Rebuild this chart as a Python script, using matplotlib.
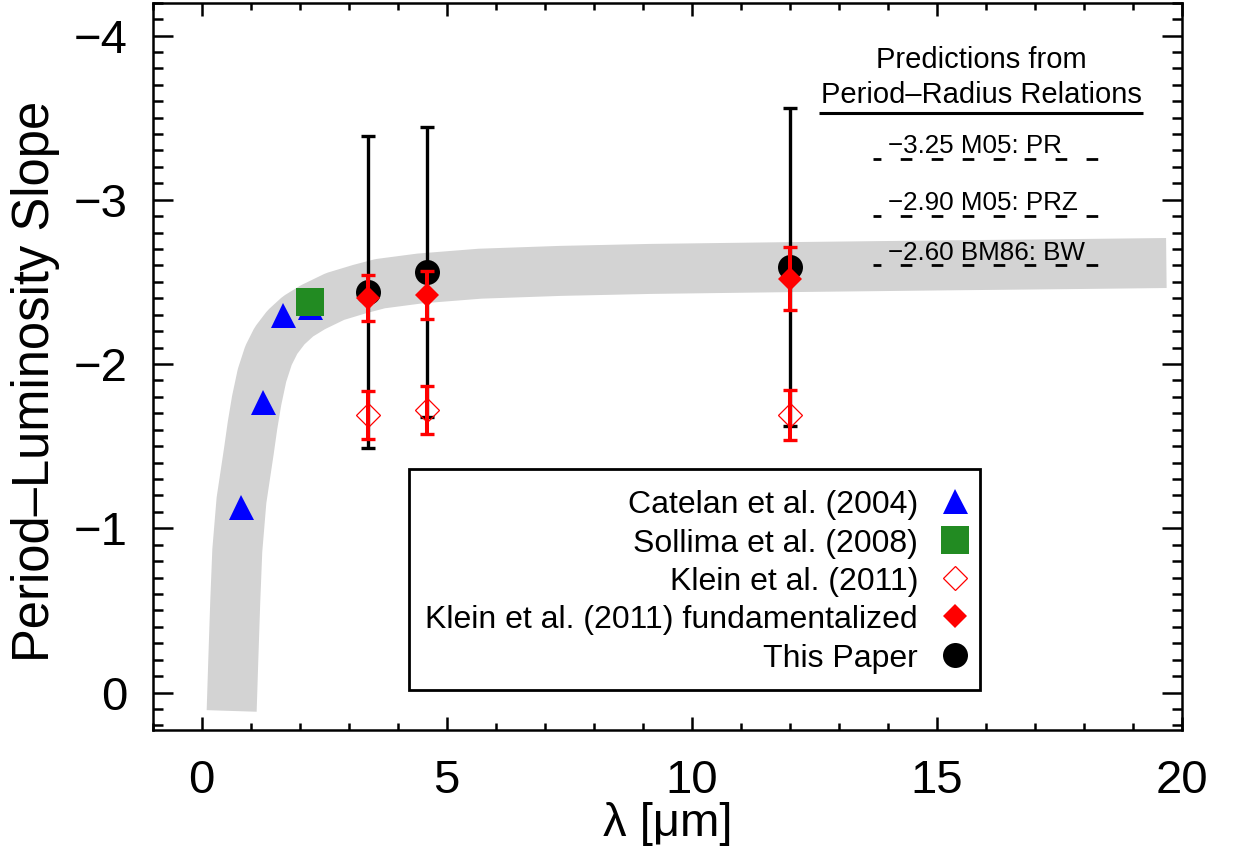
import matplotlib
matplotlib.use("Agg")
import matplotlib.pyplot as plt
from matplotlib.ticker import MultipleLocator, FixedLocator
from matplotlib.patches import Rectangle
from matplotlib.lines import Line2D

plt.rcParams['font.family'] = ['Liberation Sans', 'DejaVu Sans']
plt.rcParams['lines.scale_dashes'] = False

# ---------------- data ----------------
# gray band (centre line)
band_x = [0.612, 0.645, 0.686, 0.727, 0.812, 0.965, 1.037, 1.122, 1.231, 1.363,
          1.516, 1.720, 1.965, 2.271, 2.720, 3.231, 3.639, 4.455, 5.680, 7.314,
          9.149, 12.0, 15.27, 17.92, 19.68]
band_y = [0.112, -0.196, -0.561, -0.865, -1.170, -1.474, -1.626, -1.778, -1.931, -2.052,
          -2.143, -2.223, -2.290, -2.346, -2.411, -2.457, -2.489, -2.521, -2.550, -2.567,
          -2.579, -2.590, -2.601, -2.609, -2.615]

# Catelan et al. (2004)
catelan_x = [0.80, 1.25, 1.65, 2.20]
catelan_y = [-1.13, -1.77, -2.30, -2.35]

# Sollima et al. (2008)
sollima_x = [2.20]
sollima_y = [-2.38]

# Klein et al. (2011)
klein_x = [3.4, 4.6, 12.0]
klein_y = [-1.69, -1.72, -1.69]
klein_err = [0.147, 0.145, 0.15]

# Klein et al. (2011) fundamentalized
kleinf_x = [3.4, 4.6, 12.0]
kleinf_y = [-2.40, -2.42, -2.52]
kleinf_err = [0.14, 0.146, 0.19]

# This paper
paper_x = [3.4, 4.6, 12.0]
paper_y = [-2.44, -2.56, -2.59]
paper_err = [0.95, 0.885, 0.97]

# predictions from period-radius relations
pred_vals = [-3.25, -2.90, -2.60]
pred_names = ['M05: PR', 'M05: PRZ', 'BM86: BW']
pred_x0, pred_x1 = 13.7, 18.3

legend_labels = ['Catelan et al. (2004)', 'Sollima et al. (2008)', 'Klein et al. (2011)',
                 'Klein et al. (2011) fundamentalized', 'This Paper']

# ---------------- figure ----------------
fig = plt.figure(figsize=(12.38, 8.59), dpi=100)
ax = fig.add_axes([0.1233, 0.1498, 0.8315, 0.8471])

ax.plot(band_x, band_y, color='#d3d3d3', lw=36, solid_capstyle='butt',
        solid_joinstyle='round', zorder=1)

# this paper
ax.errorbar(paper_x, paper_y, yerr=paper_err, fmt='none', ecolor='black',
            elinewidth=2.4, capsize=4.8, capthick=2.4, zorder=3)
ax.plot(paper_x, paper_y, 'o', color='black', ms=18, mew=0, zorder=4)

# catelan / sollima
ax.plot(catelan_x, catelan_y, '^', color='#0000ff', ms=18, mew=0, zorder=4)
ax.plot(sollima_x, sollima_y, 's', color='#228b22', ms=20, mew=0, zorder=5)

# klein fundamentalized
ax.errorbar(kleinf_x, kleinf_y, yerr=kleinf_err, fmt='none', ecolor='red',
            elinewidth=2.9, capsize=4.8, capthick=2.4, zorder=6)
ax.plot(kleinf_x, kleinf_y, 'D', color='red', ms=12.7, mew=0, zorder=6)

# klein
ax.plot(klein_x, klein_y, 'D', mfc='none', mec='red', ms=12.7, mew=0.9, zorder=6)
ax.errorbar(klein_x, klein_y, yerr=klein_err, fmt='none', ecolor='red',
            elinewidth=2.9, capsize=4.8, capthick=2.4, zorder=7)

# predictions
for v, n in zip(pred_vals, pred_names):
    ax.plot([pred_x0, pred_x1], [v, v], color='black', lw=2.0,
            linestyle=(2.7, (8.4, 13.9)), zorder=2)
    ax.text(14.0, v - 0.035, '\u2212%.2f %s' % (-v, n), fontsize=18.7,
            ha='left', va='baseline', zorder=8)

ax.text(15.9, -3.80, 'Predictions from', fontsize=21, ha='center', va='baseline')
ax.text(15.9, -3.588, 'Period\u2013Radius Relations', fontsize=21, ha='center', va='baseline')
ax.plot([12.6, 19.2], [-3.53, -3.53], color='black', lw=2.2, solid_capstyle='butt')

# axes
ax.set_xlim(-1, 20)
ax.set_ylim(0.23, -4.2)
ax.xaxis.set_major_locator(FixedLocator([0, 5, 10, 15, 20]))
ax.xaxis.set_minor_locator(MultipleLocator(1))
ax.yaxis.set_major_locator(FixedLocator([-4, -3, -2, -1, 0]))
ax.yaxis.set_minor_locator(MultipleLocator(0.1))
ax.tick_params(which='both', direction='in', top=True, right=True, width=1.8)
ax.tick_params(axis='x', which='major', length=9.4, labelsize=34, pad=21)
ax.tick_params(axis='x', which='minor', length=4.7)
ax.tick_params(axis='y', which='major', length=14.4, labelsize=34, pad=18)
ax.tick_params(axis='y', which='minor', length=7.2)
for s in ax.spines.values():
    s.set_linewidth(1.8)

ax.set_xlabel('\u03bb [\u03bcm]', fontsize=34)
ax.set_ylabel('Period\u2013Luminosity Slope', fontsize=36.5)
ax.xaxis.set_label_coords(0.5, -0.098)
ax.yaxis.set_label_coords(-0.090, 0.479)

# legend (manual)
ax.add_patch(Rectangle((0.2489, 0.0554), 0.5549, 0.3033, transform=ax.transAxes,
                       facecolor='white', edgecolor='black', lw=2.0, zorder=9))
base = [0.2982, 0.2455, 0.1928, 0.1402, 0.0875]
mk = [dict(marker='^', color='#0000ff', ms=18, mew=0),
      dict(marker='s', color='#228b22', ms=20, mew=0),
      dict(marker='D', mfc='none', mec='red', ms=12.7, mew=0.9),
      dict(marker='D', color='red', ms=12.7, mew=0),
      dict(marker='o', color='black', ms=18, mew=0)]
for lab, b, m in zip(legend_labels, base, mk):
    ax.text(0.7436, b, lab, transform=ax.transAxes, fontsize=23, ha='right',
            va='baseline', zorder=10)
    ax.add_artist(Line2D([0.779], [b + 0.0165], transform=ax.transAxes,
                         linestyle='none', zorder=10, **m))

fig.savefig('out.png', dpi=100)
